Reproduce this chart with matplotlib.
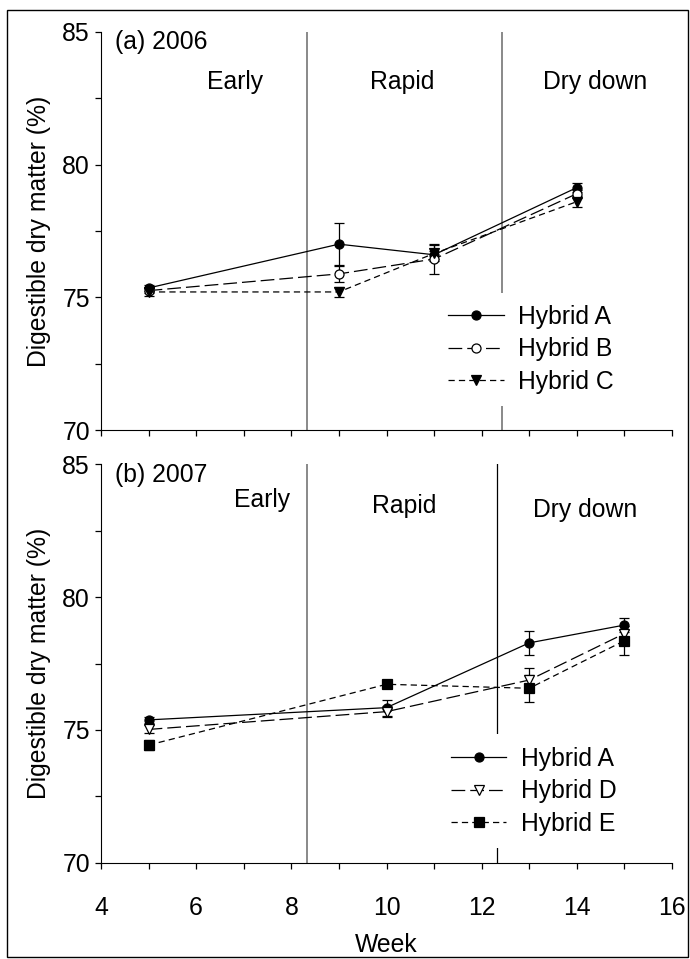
import matplotlib
matplotlib.use('Agg')
import matplotlib.pyplot as plt
from matplotlib.patches import Rectangle
from matplotlib.ticker import MultipleLocator

plt.rcParams['font.family'] = ['Liberation Sans', 'DejaVu Sans']
plt.rcParams['font.size'] = 17.8

# panel (a) 2006
weeks_a = [5, 9, 11, 14]
hyb_a_2006 = [75.35, 77.0, 76.6, 79.13]
hyb_a_2006_err = [0.1, 0.8, 0.15, 0.17]
hyb_b_2006 = [75.25, 75.88, 76.44, 78.9]
hyb_b_2006_err = [0.1, 0.3, 0.55, 0.15]
hyb_c_2006 = [75.2, 75.2, 76.65, 78.6]
hyb_c_2006_err = [0.15, 0.2, 0.3, 0.2]

# panel (b) 2007
weeks_b = [5, 10, 13, 15]
hyb_a_2007 = [75.38, 75.84, 78.28, 78.95]
hyb_a_2007_err = [0.1, 0.3, 0.45, 0.25]
hyb_d_2007 = [75.02, 75.69, 76.88, 78.63]
hyb_d_2007_err = [0.15, 0.2, 0.45, 0.15]
hyb_e_2007 = [74.43, 76.72, 76.57, 78.36]
hyb_e_2007_err = [0.2, 0.1, 0.5, 0.55]

phases = ['Early', 'Rapid', 'Dry down']

long_dash = (0, (11, 4))
short_dash = (0, (5, 3.3))

fig = plt.figure(figsize=(6.9, 9.59), dpi=100)
ax1 = fig.add_axes([0.1464, 0.5516, 0.8275, 0.4153])
ax2 = fig.add_axes([0.1464, 0.1004, 0.8275, 0.4153])

# thin frame round the whole figure
fig.patches.append(Rectangle((7 / 690, 1 - 957 / 959), 681 / 690, 947 / 959,
                             transform=fig.transFigure, fill=False,
                             edgecolor='black', linewidth=1))


def series(ax, x, y, err, ls, mfc, marker, label):
    ax.errorbar(x, y, yerr=err, fmt='none', ecolor='black', elinewidth=0.9,
                capsize=3.6, capthick=0.9, zorder=3)
    ax.plot(x, y, linestyle=ls, color='black', linewidth=0.9, marker=marker,
            markersize=6.5, markerfacecolor=mfc, markeredgecolor='black',
            markeredgewidth=0.9, label=label, zorder=4)


def setup(ax):
    ax.set_xlim(4, 16)
    ax.set_ylim(70, 85)
    ax.spines['top'].set_visible(False)
    ax.spines['right'].set_visible(False)
    ax.yaxis.set_major_locator(MultipleLocator(5))
    ax.yaxis.set_minor_locator(MultipleLocator(2.5))
    ax.xaxis.set_major_locator(MultipleLocator(2))
    ax.xaxis.set_minor_locator(MultipleLocator(1))
    ax.tick_params(which='both', direction='out', length=4, width=0.9)
    ax.tick_params(axis='y', pad=4)
    ax.tick_params(axis='x', pad=20)
    ax.set_ylabel('Digestible dry matter (%)', labelpad=8)


def add_legend(ax, anchor):
    leg = ax.legend(loc='upper left', bbox_to_anchor=anchor, borderaxespad=0,
                    frameon=True, edgecolor='none', facecolor='white', framealpha=1,
                    fancybox=False, numpoints=1, handlelength=2.25, handletextpad=0.6,
                    labelspacing=0.34, borderpad=0.5)
    leg.set_zorder(5)


# (a)
setup(ax1)
ax1.axvline(8.33, color='gray', linewidth=1.3, zorder=1)
ax1.axvline(12.43, color='gray', linewidth=1.3, zorder=1)
series(ax1, weeks_a, hyb_a_2006, hyb_a_2006_err, '-', 'black', 'o', 'Hybrid A')
series(ax1, weeks_a, hyb_b_2006, hyb_b_2006_err, long_dash, 'white', 'o', 'Hybrid B')
series(ax1, weeks_a, hyb_c_2006, hyb_c_2006_err, short_dash, 'black', 'v', 'Hybrid C')
ax1.tick_params(axis='x', labelbottom=False)
ax1.text(4.3, 84.6, '(a) 2006', va='center', ha='left')
ax1.text(6.82, 83.1, phases[0], ha='center', va='center')
ax1.text(10.32, 83.1, phases[1], ha='center', va='center')
ax1.text(14.38, 83.1, phases[2], ha='center', va='center')
add_legend(ax1, (0.586, 0.345))

# (b)
setup(ax2)
ax2.axvline(8.33, color='gray', linewidth=1.3, zorder=1)
ax2.axvline(12.33, color='black', linewidth=0.9, zorder=1)
series(ax2, weeks_b, hyb_a_2007, hyb_a_2007_err, '-', 'black', 'o', 'Hybrid A')
series(ax2, weeks_b, hyb_d_2007, hyb_d_2007_err, long_dash, 'white', 'v', 'Hybrid D')
series(ax2, weeks_b, hyb_e_2007, hyb_e_2007_err, short_dash, 'black', 's', 'Hybrid E')
ax2.set_xlabel('Week', labelpad=9)
ax2.text(4.3, 84.6, '(b) 2007', va='center', ha='left')
ax2.text(7.38, 83.65, phases[0], ha='center', va='center')
ax2.text(10.37, 83.45, phases[1], ha='center', va='center')
ax2.text(14.17, 83.27, phases[2], ha='center', va='center')
add_legend(ax2, (0.591, 0.322))

fig.savefig('out.png', dpi=100)
